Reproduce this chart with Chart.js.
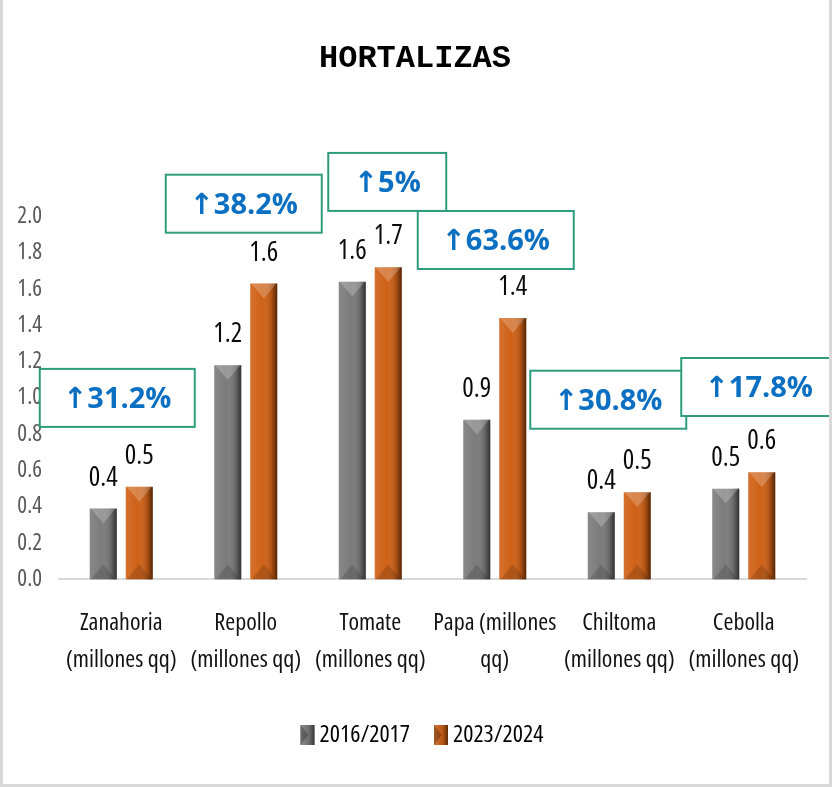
<!DOCTYPE html>
<html>
<head>
<meta charset="utf-8">
<script src="https://cdn.jsdelivr.net/npm/chart.js@4/dist/chart.umd.min.js"></script>
<style>
  html, body { margin: 0; padding: 0; background: #ffffff; }
  #wrap { width: 832px; height: 787px; position: relative; }
</style>
</head>
<body>
<div id="wrap"><canvas id="c" width="832" height="787"></canvas></div>
<script>
// ---- data ----
const categories = [
  ['Zanahoria', '(millones qq)'],
  ['Repollo', '(millones qq)'],
  ['Tomate', '(millones qq)'],
  ['Papa (millones', 'qq)'],
  ['Chiltoma', '(millones qq)'],
  ['Cebolla', '(millones qq)']
];
const seriesNames = ['2016/2017', '2023/2024'];
const values2016 = [0.39, 1.18, 1.64, 0.88, 0.37, 0.50];
const values2023 = [0.51, 1.63, 1.72, 1.44, 0.48, 0.59];
const pctChange = [31.2, 38.2, 5, 63.6, 30.8, 17.8];
const yTicks = [0.0, 0.2, 0.4, 0.6, 0.8, 1.0, 1.2, 1.4, 1.6, 1.8, 2.0];

// ---- callout placement (layout config) ----
const calloutPlacement = [
  { dx: -4,  yVal: 1.00, w: 155, h: 58 },
  { dx: -2,  yVal: 2.07, w: 156, h: 58 },
  { dx: 17,  yVal: 2.19, w: 118, h: 58 },
  { dx: 1,   yVal: 1.87, w: 156, h: 58 },
  { dx: -11, yVal: 0.99, w: 156, h: 58 },
  { dx: 15,  yVal: 1.06, w: 155, h: 58 }
];

const NARROW = "'Open Sans', 'Noto Sans', 'Liberation Sans', sans-serif";
const STRETCH = 'condensed';
const GRAY = '#7b7b7b';
const ORANGE = '#cf6116';
const SERIES_COLORS = [GRAY, ORANGE];

// shift title and legend boxes to the visual centre of the reference
const centerShiftPlugin = {
  id: 'centerShift',
  afterLayout(chart) {
    if (chart.titleBlock) { chart.titleBlock.left += 24; }
    if (chart.legend) { chart.legend.left += 38; }
  }
};

// bevel effect on bars
const bevelPlugin = {
  id: 'bevel',
  afterDatasetsDraw(chart) {
    const ctx = chart.ctx;
    chart.data.datasets.forEach((ds, di) => {
      const meta = chart.getDatasetMeta(di);
      meta.data.forEach(el => {
        const p = el.getProps(['x', 'y', 'base', 'width'], true);
        const l = p.x - p.width / 2, r = p.x + p.width / 2, t = p.y, b = p.base;
        ctx.save();
        const g = ctx.createLinearGradient(l, 0, r, 0);
        g.addColorStop(0, 'rgba(255,255,255,0.10)');
        g.addColorStop(0.45, 'rgba(255,255,255,0.0)');
        g.addColorStop(0.8, 'rgba(0,0,0,0.18)');
        g.addColorStop(1, 'rgba(0,0,0,0.6)');
        ctx.fillStyle = g;
        ctx.fillRect(l, t, r - l, b - t);
        const tri = Math.min((r - l) * 0.55, (b - t) / 2);
        ctx.beginPath();
        ctx.moveTo(l + 1, t); ctx.lineTo(r - 1, t); ctx.lineTo(p.x, t + tri); ctx.closePath();
        ctx.fillStyle = 'rgba(255,255,255,0.22)';
        ctx.fill();
        ctx.beginPath();
        ctx.moveTo(l + 1, b); ctx.lineTo(r - 1, b); ctx.lineTo(p.x, b - tri); ctx.closePath();
        ctx.fillStyle = 'rgba(0,0,0,0.15)';
        ctx.fill();
        ctx.restore();
      });
    });
  }
};

// value labels above bars
const valueLabelPlugin = {
  id: 'valueLabels',
  afterDatasetsDraw(chart) {
    const ctx = chart.ctx;
    ctx.save();
    ctx.font = STRETCH + ' 27px ' + NARROW;
    ctx.fillStyle = '#0a0a0a';
    ctx.textAlign = 'center';
    ctx.textBaseline = 'alphabetic';
    chart.data.datasets.forEach((ds, di) => {
      const meta = chart.getDatasetMeta(di);
      meta.data.forEach((el, i) => {
        ctx.fillText(ds.data[i].toFixed(1), el.x, el.y - 23);
      });
    });
    ctx.restore();
  }
};

// percentage callout boxes
const calloutPlugin = {
  id: 'callouts',
  afterDraw(chart) {
    const ctx = chart.ctx;
    const xs = chart.scales.x, ys = chart.scales.y;
    ctx.save();
    pctChange.forEach((v, i) => {
      const pl = calloutPlacement[i];
      const cx = xs.getPixelForValue(i) + pl.dx;
      const cy = ys.getPixelForValue(pl.yVal);
      const x0 = cx - pl.w / 2, y0 = cy - pl.h / 2;
      ctx.fillStyle = '#ffffff';
      ctx.fillRect(x0, y0, pl.w, pl.h);
      ctx.strokeStyle = '#2e9d7a';
      ctx.lineWidth = 2;
      ctx.strokeRect(x0, y0, pl.w, pl.h);
      ctx.fillStyle = '#0b6fc2';
      ctx.font = "bold 29px 'Open Sans', 'DejaVu Sans', sans-serif";
      ctx.textAlign = 'center';
      ctx.textBaseline = 'middle';
      ctx.fillText('\u2191' + v + '%', cx, cy + 2);
    });
    ctx.restore();
  }
};

// legend markers (bevelled) + outer frame
const framePlugin = {
  id: 'frame',
  afterDraw(chart) {
    const ctx = chart.ctx;
    const lg = chart.legend;
    if (lg && lg.legendHitBoxes) {
      lg.legendHitBoxes.forEach((hb, i) => {
        const bw = 14, bh = 20;
        const l = hb.left, t = hb.top + (hb.height - bh) / 2;
        ctx.save();
        ctx.fillStyle = SERIES_COLORS[i];
        ctx.fillRect(l, t, bw, bh);
        const g = ctx.createLinearGradient(l, 0, l + bw, 0);
        g.addColorStop(0, 'rgba(255,255,255,0.15)');
        g.addColorStop(0.6, 'rgba(0,0,0,0.1)');
        g.addColorStop(1, 'rgba(0,0,0,0.55)');
        ctx.fillStyle = g;
        ctx.fillRect(l, t, bw, bh);
        ctx.beginPath();
        ctx.moveTo(l, t); ctx.lineTo(l + bw * 0.55, t + bh / 2); ctx.lineTo(l, t + bh); ctx.closePath();
        ctx.fillStyle = 'rgba(0,0,0,0.25)';
        ctx.fill();
        ctx.restore();
      });
    }
    ctx.save();
    ctx.strokeStyle = '#d9d9d9';
    ctx.lineWidth = 3;
    ctx.beginPath();
    ctx.moveTo(1.5, 0); ctx.lineTo(1.5, 785.5); ctx.lineTo(830.5, 785.5); ctx.lineTo(830.5, 0);
    ctx.stroke();
    ctx.restore();
  }
};

new Chart(document.getElementById('c'), {
  type: 'bar',
  data: {
    labels: categories,
    datasets: [
      { label: seriesNames[0], data: values2016, backgroundColor: GRAY, categoryPercentage: 0.578, barPercentage: 0.75 },
      { label: seriesNames[1], data: values2023, backgroundColor: ORANGE, categoryPercentage: 0.578, barPercentage: 0.75 }
    ]
  },
  options: {
    responsive: false,
    animation: false,
    devicePixelRatio: 1,
    layout: { padding: { left: 0, right: 26, top: 0, bottom: 30 } },
    plugins: {
      title: {
        display: true,
        text: 'HORTALIZAS',
        color: '#000000',
        font: { family: "'Liberation Mono', 'DejaVu Sans Mono', monospace", size: 32, weight: 'bold' },
        padding: { top: 40, bottom: 138 }
      },
      legend: {
        position: 'bottom',
        labels: {
          boxWidth: 7,
          boxHeight: 20,
          padding: 24,
          color: '#000000',
          font: { family: NARROW, size: 24, weight: STRETCH }
        }
      },
      tooltip: { enabled: false }
    },
    scales: {
      x: {
        grid: { display: false, drawTicks: false },
        border: { display: true, color: '#d9d9d9', width: 2 },
        afterFit(scale) { scale.height -= 5; },
        ticks: {
          color: '#111111',
          font: { family: NARROW, size: 24, weight: STRETCH, lineHeight: 1.5125 },
          padding: 26,
          maxRotation: 0,
          autoSkip: false
        }
      },
      y: {
        min: 0,
        max: 2,
        grid: { display: false, drawTicks: false },
        border: { display: false },
        afterFit(scale) { scale.width = 59; },
        afterBuildTicks(scale) { scale.ticks = yTicks.map(v => ({ value: v })); },
        ticks: {
          color: '#595959',
          font: { family: NARROW, size: 23, weight: STRETCH },
          padding: 17,
          callback: v => Number(v).toFixed(1)
        }
      }
    }
  },
  plugins: [centerShiftPlugin, bevelPlugin, valueLabelPlugin, calloutPlugin, framePlugin]
});
</script>
</body>
</html>
